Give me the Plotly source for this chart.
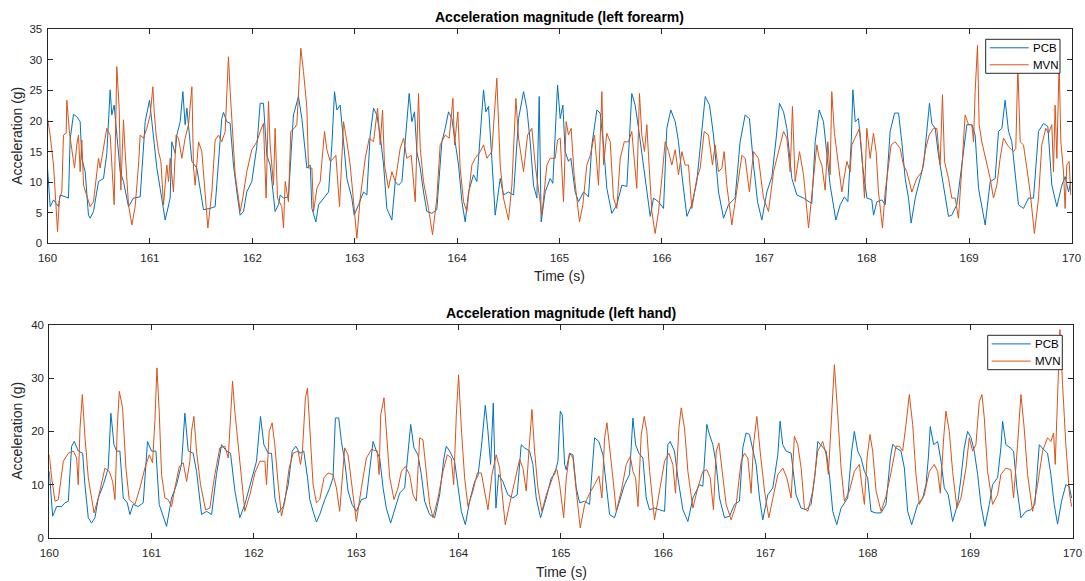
import plotly.graph_objects as go

# ---------------- data ----------------
# Top panel: left forearm
fa_t_pcb = [160.000,160.026,160.059,160.107,160.124,160.173,160.205,160.221,160.254,160.286,160.319,160.335,160.368,160.400,160.417,160.449,160.498,160.547,160.579,160.612,160.628,160.651,160.677,160.710,160.742,160.791,160.840,160.905,160.954,160.996,161.019,161.068,161.100,161.149,161.198,161.214,161.247,161.263,161.296,161.322,161.344,161.361,161.410,161.458,161.523,161.588,161.637,161.670,161.702,161.719,161.751,161.784,161.816,161.849,161.881,161.914,161.946,161.995,162.044,162.077,162.109,162.142,162.174,162.223,162.256,162.272,162.305,162.353,162.402,162.451,162.484,162.533,
            162.566,162.582,162.621,162.647,162.696,162.745,162.777,162.803,162.826,162.858,162.891,162.924,162.972,162.995,163.037,163.086,163.119,163.151,163.184,163.216,163.249,163.282,163.314,163.363,163.396,163.428,163.461,163.493,163.532,163.558,163.584,163.607,163.640,163.672,163.705,163.754,163.802,163.851,163.884,163.916,163.949,163.981,164.014,164.047,164.079,164.112,164.160,164.193,164.226,164.258,164.281,164.307,164.339,164.372,164.421,164.453,164.502,164.551,164.600,164.649,164.681,164.714,164.746,164.779,164.802,164.821,164.860,164.909,164.935,164.958,164.981,165.007,165.033,
            165.055,165.088,165.111,165.153,165.186,165.235,165.283,165.316,165.365,165.397,165.430,165.462,165.511,165.560,165.609,165.658,165.706,165.739,165.772,165.820,165.853,165.886,165.918,165.967,166.016,166.048,166.087,166.130,166.162,166.195,166.244,166.292,166.341,166.390,166.423,166.465,166.504,166.553,166.602,166.650,166.715,166.764,166.813,166.855,166.895,166.934,166.976,167.025,167.074,167.116,167.148,167.188,167.220,167.269,167.318,167.383,167.432,
            167.464,167.497,167.536,167.578,167.611,167.643,167.699,167.741,167.783,167.816,167.849,167.865,167.888,167.920,167.959,168.002,168.050,168.067,168.099,168.148,168.181,168.229,168.272,168.311,168.343,168.376,168.408,168.434,168.474,168.522,168.555,168.587,168.613,168.636,168.669,168.701,168.750,168.799,168.831,168.880,168.929,168.978,169.027,169.059,169.092,169.124,169.157,169.206,169.254,169.287,169.320,169.352,169.385,169.417,169.450,169.482,169.531,169.580,169.629,169.678,169.727,169.769,169.808,169.857,169.906,169.938,169.971,169.993]
fa_pcb = [12.3,6.0,7.1,6.0,7.9,7.6,7.4,17.0,21.1,20.7,19.9,13.9,11.7,4.6,4.1,5.2,10.1,10.6,14.7,25.1,21.0,22.6,17.7,11.7,10.1,6.0,7.4,7.6,19.9,23.4,19.9,12.3,9.0,3.8,7.4,16.6,14.7,17.7,19.9,24.8,19.4,22.1,13.4,12.3,5.5,5.7,6.0,12.8,20.4,21.4,19.9,19.6,12.8,8.4,4.6,5.2,8.4,10.1,15.8,22.9,22.9,14.4,12.8,5.2,6.3,7.9,7.4,7.6,21.0,24.0,20.4,12.3,
          12.8,5.7,3.5,6.3,7.4,8.4,16.1,24.8,21.8,22.6,16.6,10.6,7.4,4.6,6.3,8.4,7.9,17.7,22.1,21.0,17.7,12.8,5.7,3.8,10.1,9.5,10.1,16.1,24.5,19.9,21.5,15.0,12.3,8.4,5.2,4.9,5.5,16.6,18.8,21.5,20.4,16.6,12.8,6.8,3.5,8.4,11.2,10.1,17.7,25.1,21.5,22.4,13.9,4.6,10.6,7.9,8.4,7.9,20.4,24.8,22.1,16.6,9.5,7.4,24.0,3.5,8.4,10.6,9.8,17.7,25.9,20.4,22.6,
          15.0,13.4,13.9,8.4,6.8,8.4,7.6,16.1,21.8,21.3,16.1,9.0,4.9,6.3,9.5,9.3,24.5,22.6,18.8,12.8,8.4,4.4,7.4,6.8,5.7,18.8,21.8,19.9,16.6,11.2,4.4,6.3,10.1,18.3,24.0,22.6,17.7,8.4,4.1,6.3,7.4,16.6,21.0,20.4,12.8,6.8,3.8,8.4,10.9,17.2,22.9,21.5,18.8,10.6,7.9,7.4,6.8,
          6.5,16.6,21.8,19.9,15.0,9.5,3.8,6.3,7.6,6.8,16.6,25.1,19.9,20.4,12.8,7.4,7.1,4.6,6.8,7.1,6.3,18.3,21.3,21.3,16.6,10.6,7.4,3.3,7.4,10.6,12.8,18.3,22.9,19.6,18.8,14.4,9.5,4.4,4.6,6.3,12.8,19.4,19.4,17.7,9.0,6.3,3.0,10.1,10.6,18.3,18.8,23.4,18.3,16.6,11.2,6.3,5.7,7.4,7.4,18.3,19.6,19.1,9.5,6.0,9.5,10.9,8.4,10.1]

fa_t_mvn = [160.000,160.026,160.059,160.085,160.098,160.117,160.140,160.156,160.182,160.189,160.215,160.238,160.264,160.286,160.303,160.319,160.335,160.352,160.384,160.417,160.449,160.498,160.514,160.547,160.579,160.612,160.651,160.677,160.700,160.716,160.742,160.758,160.791,160.824,160.856,160.889,160.905,160.937,160.970,161.003,161.029,161.042,161.061,161.084,161.107,161.133,161.165,161.182,161.198,161.230,161.256,161.279,161.312,161.344,161.377,161.410,161.426,161.442,161.475,161.507,161.540,161.566,161.605,161.637,161.670,161.702,161.735,161.767,161.784,161.810,161.833,161.865,161.881,161.907,161.946,161.995,162.044,162.077,162.109,162.135,162.158,162.174,162.207,162.223,162.246,162.288,162.305,162.321,162.353,162.376,162.409,162.435,162.474,162.500,
            162.533,162.549,162.582,162.598,162.631,162.663,162.705,162.728,162.761,162.793,162.816,162.852,162.891,162.924,162.956,162.989,163.021,163.054,163.103,163.142,163.184,163.223,163.249,163.272,163.291,163.330,163.363,163.396,163.444,163.477,163.509,163.552,163.591,163.623,163.640,163.672,163.721,163.760,163.802,163.835,163.884,163.923,163.959,163.975,164.007,164.030,164.063,164.095,164.144,164.177,164.226,164.258,164.291,164.339,164.388,164.421,164.453,164.502,164.535,164.574,164.600,164.649,164.688,164.730,164.763,164.828,164.877,164.909,164.958,164.981,165.007,165.039,
            165.065,165.088,165.114,165.143,165.169,165.195,165.228,165.267,165.300,165.342,165.381,165.414,165.430,165.462,165.495,165.527,165.560,165.593,165.632,165.674,165.706,165.755,165.781,165.804,165.830,165.853,165.869,165.902,165.934,165.967,165.999,166.032,166.065,166.097,166.130,166.162,166.195,166.227,166.260,166.292,166.341,166.374,166.413,166.455,166.494,166.520,166.553,166.585,166.608,166.634,166.683,166.732,166.781,166.813,166.855,166.895,166.943,166.992,167.041,167.090,167.139,167.188,167.220,167.253,167.275,167.301,167.344,167.383,167.432,
            167.480,167.513,167.536,167.562,167.594,167.620,167.643,167.659,167.685,167.725,167.757,167.806,167.838,167.855,167.904,167.930,167.952,167.978,168.001,168.034,168.066,168.092,168.115,168.154,168.180,168.206,168.239,168.278,168.327,168.359,168.392,168.441,168.489,168.538,168.577,168.610,168.652,168.685,168.717,168.740,168.760,168.799,168.831,168.864,168.896,168.929,168.961,168.994,169.027,169.043,169.059,169.082,169.098,169.124,169.173,169.206,169.238,169.271,169.303,169.336,169.385,169.433,169.456,169.476,169.499,169.531,169.564,169.596,169.638,169.678,169.710,169.749,169.775,169.808,169.824,169.840,169.857,169.879,169.896,169.922,169.938,169.954,169.977,169.993]
fa_mvn = [20.4,17.7,12.8,4.6,1.9,7.4,8.4,17.7,18.0,23.4,18.0,15.3,12.3,16.1,17.7,11.7,16.9,9.5,7.9,6.0,6.8,13.9,12.3,15.5,18.8,17.7,6.3,28.9,22.1,8.7,20.2,15.0,6.3,3.0,6.0,12.8,17.7,17.2,18.8,21.0,25.6,21.5,17.7,15.0,13.4,6.3,12.8,10.1,13.9,8.4,17.7,17.2,13.9,17.2,19.4,25.6,12.3,9.5,16.6,15.0,8.4,2.5,8.4,16.9,17.7,16.6,18.3,30.5,24.8,17.7,11.2,7.4,5.2,7.4,11.7,15.3,16.6,18.3,19.6,7.4,23.2,16.1,9.5,18.8,7.4,6.0,2.5,10.1,6.8,18.3,18.8,19.4,31.9,28.1,
          22.1,12.3,12.3,5.2,9.0,10.1,18.3,15.3,13.4,13.9,14.4,6.0,19.9,16.6,12.8,6.8,0.8,7.4,13.9,17.2,16.6,22.1,16.1,21.8,12.8,9.0,11.7,10.1,15.5,17.2,13.9,14.4,6.8,24.5,15.5,10.1,5.7,1.4,7.4,16.1,17.7,17.2,23.7,16.1,21.5,12.3,6.8,5.2,12.8,13.9,15.0,16.1,13.9,15.0,27.0,12.8,7.4,3.8,9.5,23.7,17.2,11.7,17.7,18.8,12.8,4.6,12.8,13.9,13.9,16.9,17.2,6.8,
          19.9,17.7,18.8,11.2,7.4,3.5,6.3,12.8,14.4,17.7,9.5,24.8,12.8,18.0,16.6,7.4,5.7,13.9,16.6,16.6,18.3,9.0,24.5,17.7,15.0,19.4,14.4,5.2,1.6,5.2,10.6,16.6,15.0,12.8,15.3,11.2,15.0,12.8,12.8,5.7,10.6,12.3,18.3,17.7,12.8,16.1,11.7,12.3,15.0,9.5,3.0,8.4,14.4,13.9,8.4,15.0,13.9,7.4,5.2,11.7,15.0,18.3,17.2,11.7,22.4,10.1,15.0,11.2,2.5,
          10.1,16.1,13.9,12.8,8.7,16.6,11.2,24.8,18.0,12.8,8.4,13.4,11.7,16.1,18.0,18.8,15.0,7.4,18.8,13.9,18.0,15.0,8.4,2.5,8.4,11.7,16.1,16.6,15.5,12.8,11.7,8.4,10.6,11.7,15.5,17.7,18.8,18.8,12.8,24.3,13.4,10.6,7.4,7.4,4.1,12.3,21.0,19.4,19.4,16.6,24.8,32.4,19.4,16.6,12.8,10.6,7.4,9.5,13.9,17.2,15.8,15.0,15.5,29.0,16.6,16.1,12.3,8.4,1.6,7.4,16.1,18.8,18.0,19.4,11.7,22.6,13.9,29.7,16.6,11.7,5.7,12.8,13.4,7.9]

# Bottom panel: left hand
hd_t_pcb = [160.000,160.033,160.072,160.121,160.153,160.186,160.218,160.244,160.284,160.326,160.348,160.381,160.413,160.446,160.479,160.528,160.576,160.602,160.632,160.658,160.690,160.723,160.762,160.788,160.820,160.869,160.918,160.960,160.999,161.042,161.074,161.114,161.146,161.195,161.244,161.292,161.325,161.358,161.406,161.439,161.488,161.537,161.586,161.634,161.683,161.732,161.771,161.814,161.862,161.911,161.960,162.025,162.064,162.097,162.140,162.172,162.205,162.237,162.286,162.335,162.374,162.409,162.448,162.487,162.524,162.546,
            162.578,162.611,162.643,162.692,162.741,162.773,162.796,162.829,162.855,162.887,162.920,162.959,163.001,163.050,163.099,163.131,163.164,163.197,163.229,163.262,163.294,163.336,163.376,163.424,163.473,163.499,163.532,163.564,163.603,163.636,163.668,163.717,163.766,163.815,163.857,163.880,163.913,163.961,163.994,164.027,164.066,164.108,164.157,164.189,164.222,164.261,164.287,164.313,164.339,164.365,164.391,164.433,164.482,164.531,164.573,164.612,164.645,164.694,164.726,164.759,164.801,164.857,164.906,164.938,164.971,164.994,165.013,165.036,
            165.052,165.085,165.118,165.150,165.183,165.232,165.280,165.313,165.329,165.371,165.411,165.443,165.476,165.524,165.573,165.622,165.671,165.704,165.730,165.762,165.801,165.834,165.866,165.915,165.964,166.013,166.045,166.068,166.110,166.143,166.192,166.241,166.290,166.355,166.387,166.404,166.426,166.452,166.485,166.518,166.550,166.599,166.648,166.697,166.745,166.778,166.810,166.843,166.876,166.908,166.941,166.973,167.022,167.071,167.120,167.142,167.168,167.201,167.250,167.298,167.347,167.396,167.445,167.484,167.510,
            167.559,167.592,167.624,167.657,167.696,167.738,167.803,167.842,167.868,167.901,167.933,167.966,167.998,168.031,168.080,168.129,168.177,168.220,168.243,168.275,168.324,168.357,168.389,168.428,168.487,168.536,168.568,168.591,168.610,168.643,168.682,168.715,168.747,168.786,168.828,168.877,168.910,168.942,168.975,169.008,169.040,169.073,169.105,169.144,169.187,169.219,169.268,169.300,169.317,169.349,169.392,169.424,169.457,169.496,169.545,169.593,169.632,169.675,169.717,169.756,169.789,169.821,169.854,169.893,169.935,169.968,169.991]
hd_pcb = [12.5,4.1,5.9,5.9,6.6,6.9,17.2,18.1,16.3,15.9,10.0,3.8,2.8,3.8,7.5,10.0,13.1,23.4,17.5,16.3,16.3,7.5,6.6,4.4,6.3,5.9,6.6,18.1,16.3,16.3,6.3,3.8,2.2,7.5,10.0,13.8,23.4,16.3,15.9,12.5,4.4,5.0,4.4,11.9,17.5,16.3,15.9,8.8,3.8,6.3,10.0,14.4,22.8,17.5,15.9,15.9,7.5,4.7,5.9,10.0,16.3,17.2,15.9,16.3,11.3,7.2,
          5.0,3.0,4.4,7.2,9.4,11.3,22.5,22.5,18.1,14.4,8.8,6.3,5.0,7.2,7.5,12.5,18.1,16.3,15.0,9.4,5.6,2.8,5.3,8.4,9.4,14.4,21.3,16.9,15.6,11.9,6.9,4.4,3.8,8.1,15.0,17.2,16.3,14.4,10.0,5.0,2.5,6.9,10.6,11.6,16.9,24.9,20.0,13.8,25.3,5.6,11.9,10.6,8.1,7.5,8.1,17.5,16.9,16.3,13.8,7.5,3.8,7.5,11.3,11.9,14.4,23.8,23.1,13.8,
          12.8,15.9,15.6,9.4,6.6,6.9,6.3,13.8,18.8,18.1,15.6,10.0,4.4,3.8,6.9,10.0,11.9,22.5,17.5,15.9,15.0,7.5,5.3,5.6,5.3,5.0,17.5,18.1,16.3,11.3,5.3,3.1,7.5,10.0,9.7,15.0,21.3,19.4,17.5,13.8,7.5,3.8,4.1,6.3,6.9,16.9,19.7,19.4,16.3,13.8,7.5,3.4,8.1,9.4,15.6,21.9,17.5,16.3,15.9,8.1,5.6,5.3,6.3,11.9,18.1,
          16.9,16.3,11.9,5.0,2.5,5.6,7.5,16.3,20.0,16.3,15.0,12.5,11.3,5.0,4.7,4.7,6.3,15.0,17.6,16.9,16.3,13.1,5.0,2.5,6.3,7.5,10.0,15.0,20.9,17.5,18.1,14.4,9.4,8.1,3.1,6.3,11.3,16.9,20.0,18.8,16.3,11.9,6.3,2.2,6.3,10.0,11.3,16.9,21.9,17.5,16.9,16.3,9.4,3.8,5.0,5.3,6.3,17.5,16.6,15.9,11.9,6.3,2.6,6.9,10.0,9.7,7.5]

hd_t_mvn = [160.000,160.023,160.056,160.088,160.137,160.186,160.235,160.267,160.283,160.300,160.323,160.349,160.381,160.414,160.437,160.479,160.511,160.544,160.586,160.619,160.642,160.664,160.684,160.716,160.749,160.781,160.837,160.886,160.934,160.977,161.009,161.032,161.052,161.074,161.097,161.130,161.162,161.195,161.228,161.270,161.309,161.342,161.374,161.390,161.413,161.439,161.478,161.527,161.569,161.618,161.667,161.716,161.749,161.771,161.791,161.813,161.846,161.879,161.911,161.960,162.009,162.058,162.107,162.123,162.149,162.178,162.204,162.237,162.269,162.302,162.344,162.383,162.432,162.455,162.474,162.503,162.523,162.546,
            162.578,162.611,162.643,162.685,162.725,162.773,162.806,162.838,162.887,162.920,162.952,163.001,163.050,163.099,163.148,163.206,163.223,163.239,163.271,163.294,163.327,163.369,163.408,163.441,163.480,163.522,163.555,163.587,163.620,163.652,163.685,163.717,163.750,163.799,163.848,163.890,163.929,163.952,163.978,164.000,164.027,164.059,164.092,164.140,164.183,164.222,164.254,164.287,164.326,164.368,164.401,164.433,164.456,164.498,164.547,164.596,164.629,164.661,164.694,164.717,164.743,164.775,164.814,164.857,164.906,164.938,164.962,164.988,165.027,
            165.053,165.085,165.118,165.150,165.189,165.232,165.281,165.329,165.372,165.401,165.427,165.450,165.476,165.508,165.541,165.590,165.639,165.678,165.704,165.730,165.753,165.785,165.814,165.840,165.867,165.915,165.964,166.013,166.055,166.094,166.120,166.153,166.176,166.208,166.241,166.290,166.338,166.387,166.426,166.459,166.491,166.518,166.544,166.566,166.615,166.664,166.713,166.762,166.794,166.827,166.859,166.882,166.915,166.947,166.990,167.032,167.071,167.120,167.169,167.208,167.250,167.282,167.315,167.348,167.380,167.413,167.461,167.510,
            167.559,167.592,167.614,167.647,167.673,167.706,167.738,167.771,167.819,167.868,167.917,167.940,167.966,167.992,168.021,168.047,168.080,168.129,168.177,168.226,168.275,168.308,168.340,168.373,168.405,168.438,168.470,168.503,168.552,168.601,168.649,168.682,168.708,168.741,168.763,168.796,168.828,168.871,168.910,168.959,168.991,169.024,169.056,169.089,169.115,169.138,169.170,169.219,169.268,169.300,169.349,169.398,169.424,169.463,169.496,169.528,169.561,169.610,169.659,169.708,169.756,169.789,169.815,169.831,169.854,169.877,169.903,169.935,169.968,169.991]
hd_mvn = [15.6,11.3,6.9,7.2,14.4,15.9,16.3,15.0,10.0,20.6,26.9,18.8,11.3,6.9,4.7,7.5,10.6,13.1,12.5,10.6,7.2,20.6,27.5,24.4,13.1,7.2,6.3,9.4,13.1,15.6,14.1,21.9,31.9,23.8,11.9,7.5,7.2,5.9,9.4,13.4,14.1,10.6,14.4,20.0,22.8,16.3,10.0,5.3,5.6,11.9,16.9,17.2,15.0,23.1,29.4,23.8,17.5,10.0,5.0,8.1,12.2,14.4,14.4,10.0,20.0,21.6,17.5,10.0,4.1,6.9,13.1,15.9,16.3,13.8,16.3,26.3,28.1,20.6,
          10.0,6.6,7.2,11.3,12.2,11.9,9.4,5.0,16.9,15.6,10.6,3.1,9.4,15.0,16.6,16.3,11.9,23.1,26.3,19.4,11.3,7.2,9.4,12.5,13.4,11.9,8.1,6.9,18.8,18.4,12.5,6.3,3.8,7.5,12.5,15.6,15.0,10.0,23.1,30.6,20.6,11.3,5.9,8.8,12.2,12.2,8.8,5.3,11.9,15.6,13.1,7.5,2.5,6.3,10.6,14.7,13.1,8.8,18.1,24.1,16.3,9.4,5.0,8.1,10.6,12.5,12.8,10.0,3.8,
          11.3,15.9,15.0,8.8,1.9,6.3,8.4,10.0,11.6,7.5,18.8,21.6,17.5,11.3,5.0,8.8,13.8,15.3,12.5,11.3,5.9,19.4,22.8,20.0,12.5,3.4,8.8,14.4,15.9,13.8,8.4,20.6,24.4,20.6,12.5,5.6,9.4,12.5,12.8,11.3,5.3,16.3,17.8,14.4,6.3,3.4,6.3,14.4,15.9,15.0,8.4,17.5,22.8,16.3,8.8,3.8,7.5,11.9,13.1,11.3,7.5,19.1,17.5,13.1,5.6,5.0,8.8,16.3,
          18.1,15.6,11.9,22.5,32.5,23.1,13.1,6.9,8.8,12.5,13.8,10.0,6.3,15.0,19.4,16.3,8.8,5.0,7.8,12.2,17.2,17.2,16.3,21.3,26.9,21.3,11.9,6.3,8.1,12.5,13.8,12.5,8.4,18.8,23.8,20.0,12.5,5.6,7.5,13.1,18.8,16.3,17.5,25.6,26.9,22.5,12.5,6.3,8.1,11.9,13.1,12.8,7.5,17.5,26.9,20.6,11.9,5.0,10.0,16.3,18.8,18.1,19.7,13.8,28.8,39.1,28.8,17.5,8.8,5.9]

x_ticks = [160, 161, 162, 163, 164, 165, 166, 167, 168, 169, 170]
fa_y_ticks = [0, 5, 10, 15, 20, 25, 30, 35]
hd_y_ticks = [0, 10, 20, 30, 40]
series_names = ["PCB", "MVN"]
titles = ["Acceleration magnitude (left forearm)", "Acceleration magnitude (left hand)"]
x_label = "Time (s)"
y_label = "Acceleration (g)"

# ---------------- styling ----------------
BLUE = "#0072BD"
ORANGE = "#D95319"
AX = "#262626"
FONT = "Liberation Sans, Arial, Helvetica, sans-serif"
W, H = 1085, 581
colors = [BLUE, ORANGE]

fig = go.Figure()
fig.add_trace(go.Scatter(x=fa_t_pcb, y=fa_pcb, mode="lines", name=series_names[0],
                         line=dict(color=BLUE, width=1), xaxis="x", yaxis="y", showlegend=False))
fig.add_trace(go.Scatter(x=fa_t_mvn, y=fa_mvn, mode="lines", name=series_names[1],
                         line=dict(color=ORANGE, width=1), xaxis="x", yaxis="y", showlegend=False))
fig.add_trace(go.Scatter(x=hd_t_pcb, y=hd_pcb, mode="lines", name=series_names[0],
                         line=dict(color=BLUE, width=1), xaxis="x2", yaxis="y2", showlegend=False))
fig.add_trace(go.Scatter(x=hd_t_mvn, y=hd_mvn, mode="lines", name=series_names[1],
                         line=dict(color=ORANGE, width=1), xaxis="x2", yaxis="y2", showlegend=False))

def px_x(p):
    return p / W

def px_y(p):
    return (H - p) / H

axis_common = dict(showline=True, linecolor=AX, linewidth=1, mirror="allticks",
                   ticks="inside", ticklen=5, tickcolor=AX, tickwidth=1,
                   showgrid=False, zeroline=False, automargin=False,
                   tickfont=dict(family=FONT, size=11.5, color=AX))

fig.update_layout(
    width=W, height=H,
    margin=dict(l=0, r=0, t=0, b=0, pad=0, autoexpand=False),
    paper_bgcolor="white", plot_bgcolor="white",
    font=dict(family=FONT, color=AX),
    xaxis=dict(domain=[px_x(47.5), px_x(1071.5)], range=[160, 170], tickvals=x_ticks,
               anchor="y", ticklabelstandoff=4, **axis_common),
    yaxis=dict(domain=[px_y(243.3), px_y(29.3)], range=[0, 35], tickvals=fa_y_ticks,
               anchor="x", ticklabelstandoff=2, **axis_common),
    xaxis2=dict(domain=[px_x(49.3), px_x(1072.5)], range=[160, 170], tickvals=x_ticks,
                anchor="y2", ticklabelstandoff=4, **axis_common),
    yaxis2=dict(domain=[px_y(538), px_y(324.7)], range=[0, 40], tickvals=hd_y_ticks,
                anchor="x2", ticklabelstandoff=2, **axis_common),
    showlegend=False,
)

ann = []
shapes = []

# titles and axis labels
for ttl, cx, cy in [(titles[0], 559.5, 17), (titles[1], 561, 313)]:
    ann.append(dict(text="<b>" + ttl + "</b>", x=px_x(cx), y=px_y(cy), xref="paper", yref="paper",
                    showarrow=False, xanchor="center", yanchor="middle",
                    font=dict(family=FONT, size=14, color="black")))
for cx, cy in [(559.5, 276), (561, 572)]:
    ann.append(dict(text=x_label, x=px_x(cx), y=px_y(cy), xref="paper", yref="paper",
                    showarrow=False, xanchor="center", yanchor="middle",
                    font=dict(family=FONT, size=14, color=AX)))
for cy in [136.3, 431.3]:
    ann.append(dict(text=y_label, x=px_x(17.5), y=px_y(cy), xref="paper", yref="paper",
                    showarrow=False, xanchor="center", yanchor="middle", textangle=-90,
                    font=dict(family=FONT, size=14, color=AX)))

# MATLAB-style legend boxes (top-right of each panel)
def add_legend(x0, y0, x1, y1):
    shapes.append(dict(type="rect", xref="paper", yref="paper",
                       x0=px_x(x0), x1=px_x(x1), y0=px_y(y1), y1=px_y(y0),
                       line=dict(color=AX, width=1), fillcolor="white", layer="above"))
    row_h = (y1 - y0) / 2.0
    for i, (nm, col) in enumerate(zip(series_names, colors)):
        cy = y0 + row_h * (i + 0.5)
        shapes.append(dict(type="line", xref="paper", yref="paper",
                           x0=px_x(x0 + 4), x1=px_x(x0 + 43), y0=px_y(cy), y1=px_y(cy),
                           line=dict(color=col, width=1), layer="above"))
        ann.append(dict(text=nm, x=px_x(x0 + 45), y=px_y(cy), xref="paper", yref="paper",
                        showarrow=False, xanchor="left", yanchor="middle",
                        font=dict(family=FONT, size=11.5, color="black")))

add_legend(985.7, 39.3, 1060.0, 73.3)
add_legend(987.7, 335.3, 1062.3, 369.7)

fig.update_layout(annotations=ann, shapes=shapes)

fig.write_html("out.html")
